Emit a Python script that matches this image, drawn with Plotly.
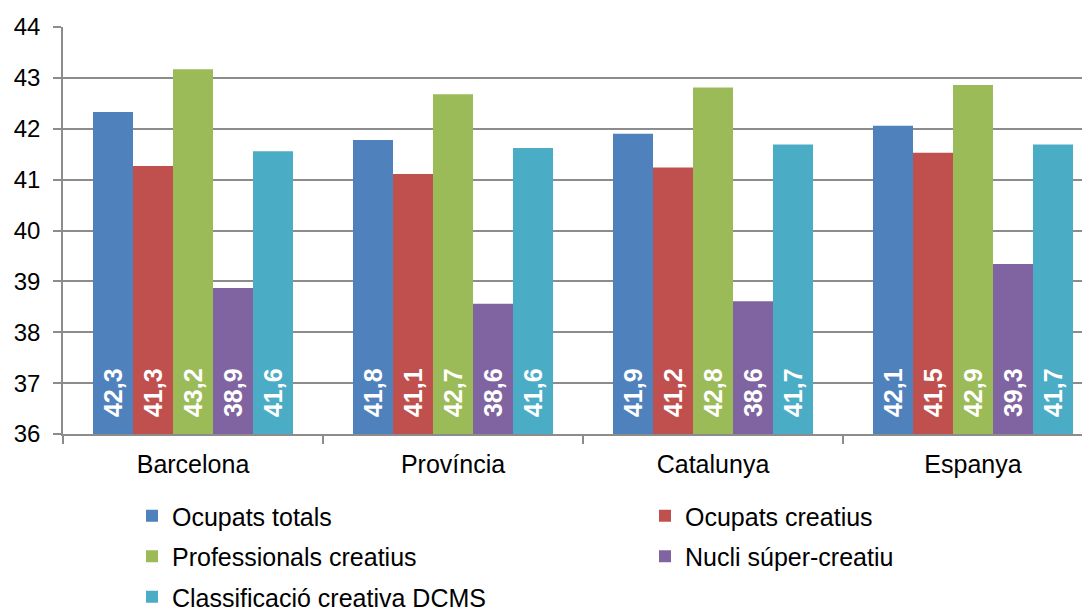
import plotly.graph_objects as go

categories = ["Barcelona", "Província", "Catalunya", "Espanya"]
ocupats_totals = [42.33, 41.78, 41.90, 42.06]
ocupats_creatius = [41.27, 41.11, 41.24, 41.53]
professionals_creatius = [43.17, 42.68, 42.81, 42.86]
nucli_super = [38.87, 38.56, 38.61, 39.34]
dcms = [41.56, 41.62, 41.69, 41.69]

series = [
    ("Ocupats totals", ocupats_totals, "#4F81BD", "legend"),
    ("Ocupats creatius", ocupats_creatius, "#C0504D", "legend2"),
    ("Professionals creatius", professionals_creatius, "#9BBB59", "legend"),
    ("Nucli súper-creatiu", nucli_super, "#8064A2", "legend2"),
    ("Classificació creativa DCMS", dcms, "#4BACC6", "legend"),
]

FONT = "Liberation Sans, Arial, sans-serif"
Y_MIN = 36

# the page body has an 8px margin, so the figure is shrunk by that much
W, H = 1082, 602

fig = go.Figure()
for name, vals, color, leg in series:
    fig.add_trace(go.Bar(
        x=categories, y=[v - Y_MIN for v in vals], base=Y_MIN,
        name=name, legend=leg, legendgroup=name,
        marker=dict(color=color, line=dict(width=0)),
        # non-breaking spaces lift the label off the bar base a bit
        text=["\u00a0\u00a0" + f"{v:.1f}".replace(".", ",") for v in vals],
        textposition="inside", insidetextanchor="start", textangle=-90,
        textfont=dict(color="white", size=25, family=FONT, weight="bold"),
        constraintext="none",
    ))

fig.update_layout(
    width=W, height=H,
    margin=dict(l=55, r=0, t=19, b=176, autoexpand=False),
    plot_bgcolor="white", paper_bgcolor="white",
    barmode="group", bargap=0.2308, bargroupgap=0,
    font=dict(family=FONT, size=25, color="black"),
    uniformtext=dict(minsize=25, mode="show"),
    xaxis=dict(
        range=[-0.5, 3.45], showline=True, linecolor="#8c8c8c", linewidth=1.5,
        ticks="outside", tickson="boundaries", ticklen=8, tickcolor="#8c8c8c",
        tickwidth=1.5, showgrid=False, tickfont=dict(size=25), tickangle=0,
        ticklabelstandoff=7,
    ),
    yaxis=dict(
        range=[Y_MIN, 44], dtick=1, showline=True, linecolor="#8c8c8c", linewidth=1.5,
        ticks="outside", ticklen=8, tickcolor="#8c8c8c", tickwidth=1.5,
        showgrid=True, gridcolor="#8c8c8c", gridwidth=1.5, zeroline=False,
        tickfont=dict(size=24), ticklabelstandoff=8,
    ),
    legend=dict(
        xref="container", yref="container", x=124 / W, y=1 - 485 / H,
        xanchor="left", yanchor="top", orientation="v", tracegroupgap=5,
        font=dict(size=25), bgcolor="rgba(0,0,0,0)",
    ),
    legend2=dict(
        xref="container", yref="container", x=637 / W, y=1 - 485 / H,
        xanchor="left", yanchor="top", orientation="v", tracegroupgap=5,
        font=dict(size=25), bgcolor="rgba(0,0,0,0)",
    ),
)

fig.write_html("out.html")
